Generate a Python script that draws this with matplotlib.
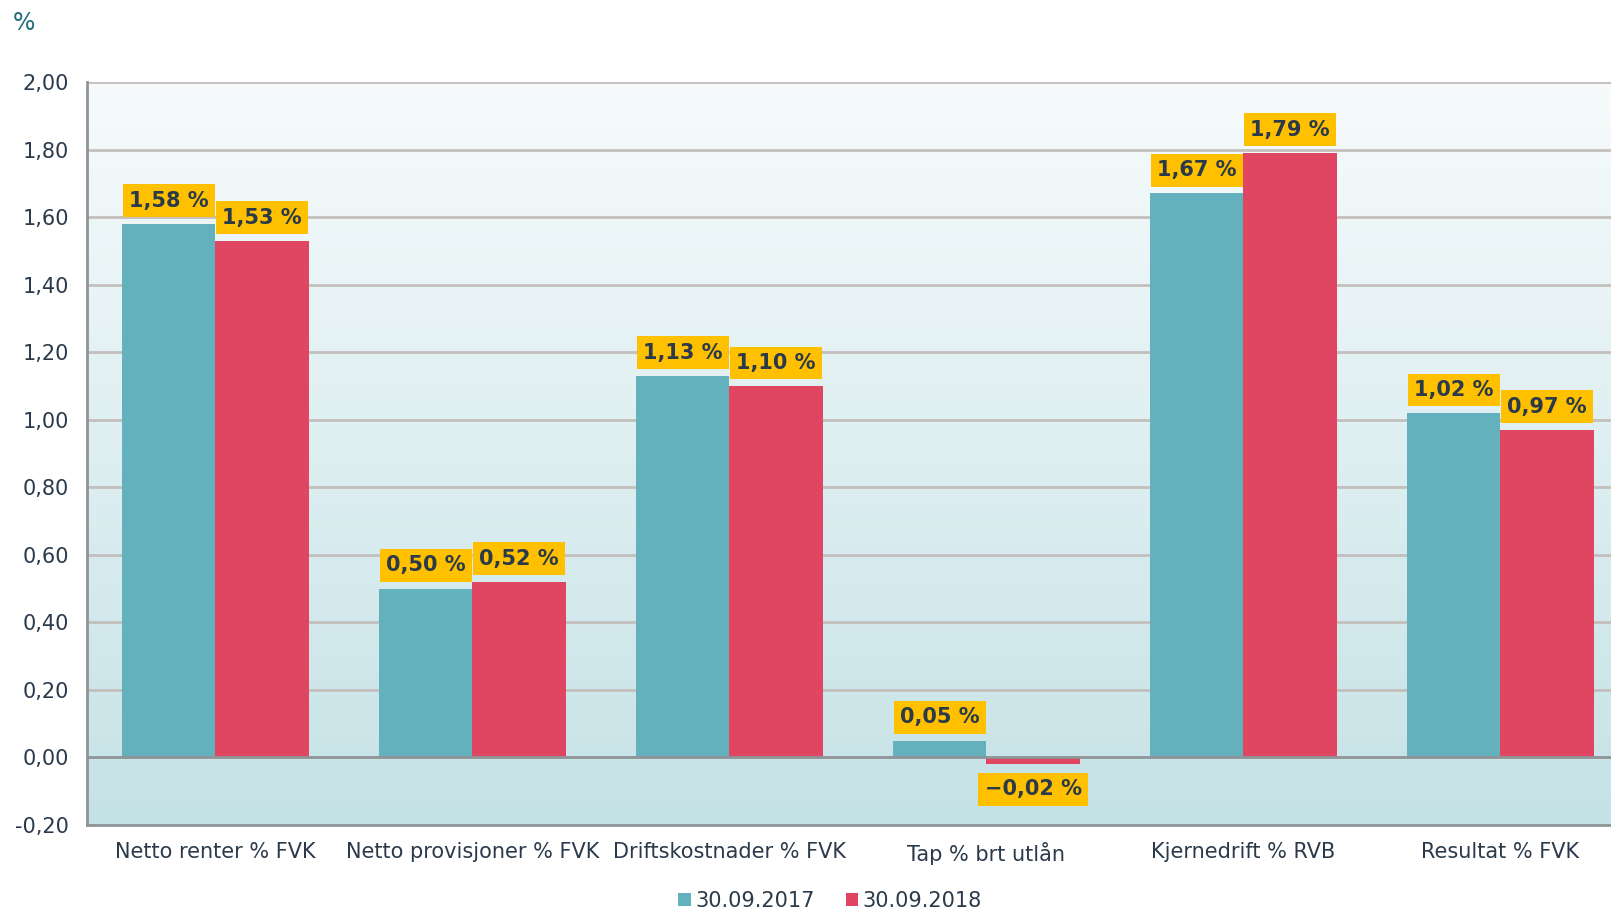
import matplotlib
matplotlib.use("Agg")
import matplotlib.pyplot as plt
import numpy as np
from matplotlib.colors import LinearSegmentedColormap

categories = ["Netto renter % FVK", "Netto provisjoner % FVK", "Driftskostnader % FVK",
              "Tap % brt utlån", "Kjernedrift % RVB", "Resultat % FVK"]
series_names = ["30.09.2017", "30.09.2018"]
values_2017 = [1.58, 0.50, 1.13, 0.05, 1.67, 1.02]
values_2018 = [1.53, 0.52, 1.10, -0.02, 1.79, 0.97]
yticks = [-0.2, 0.0, 0.2, 0.4, 0.6, 0.8, 1.0, 1.2, 1.4, 1.6, 1.8, 2.0]

teal = "#63b1bc"
red = "#e04562"
gold = "#ffc000"
text_col = "#2b3a4a"

plt.rcParams['font.family'] = ['DejaVu Sans']

fig = plt.figure(figsize=(16.11, 9.09), dpi=100)
ax = fig.add_axes([87/1611, 84/909, 1 - 87/1611, (825-82)/909])

# gradient background
cmap = LinearSegmentedColormap.from_list("bg", ["#f7fbfc", "#c5e2e6"])
grad = np.linspace(0, 1, 256).reshape(-1, 1)
ax.imshow(grad, extent=[0, 1, 0, 1], transform=ax.transAxes, aspect='auto',
          cmap=cmap, origin='upper', zorder=0)

x = np.arange(len(categories))
w = 0.362
ax.bar(x - w/2, values_2017, width=w, color=teal, zorder=3, label=series_names[0])
ax.bar(x + w/2, values_2018, width=w, color=red, zorder=3, label=series_names[1])

ax.set_xlim(-0.5, 5.43)
ax.set_ylim(-0.2, 2.0)
ax.set_yticks(yticks)
ax.set_yticklabels([("%.2f" % t).replace(".", ",") for t in yticks])
for t in yticks:
    if t in (-0.2,):
        continue
    if abs(t) < 1e-9:
        ax.axhline(t, color="#8e9497", lw=2, zorder=4)
    else:
        ax.axhline(t, color="#c3bfbc", lw=2, zorder=1)

ax.set_xticks(x)
ax.set_xticklabels(categories)
ax.tick_params(axis='both', length=0, labelsize=15, colors=text_col)
ax.tick_params(axis='x', pad=12)
ax.tick_params(axis='y', pad=13)

for s in ['top', 'right']:
    ax.spines[s].set_visible(False)
ax.spines['left'].set_color("#8e9497")
ax.spines['left'].set_linewidth(2)
ax.spines['bottom'].set_color("#8e9497")
ax.spines['bottom'].set_linewidth(2)

def fmt(v):
    s = ("%.2f" % abs(v)).replace(".", ",") + " %"
    return ("\u2212" + s) if v < 0 else s

for xs, vals in [(x - w/2, values_2017), (x + w/2, values_2018)]:
    for xi, v in zip(xs, vals):
        if v >= 0:
            ax.annotate(fmt(v), (xi, v), xytext=(0, 9.5), textcoords='offset points',
                        ha='center', va='bottom', fontsize=15, fontweight='bold',
                        color=text_col, zorder=6,
                        bbox=dict(boxstyle='square,pad=0.3', fc=gold, ec='none'))
        else:
            ax.annotate(fmt(v), (xi, v), xytext=(0, -11), textcoords='offset points',
                        ha='center', va='top', fontsize=15, fontweight='bold',
                        color=text_col, zorder=6,
                        bbox=dict(boxstyle='square,pad=0.3', fc=gold, ec='none'))

fig.text(13/1611, 1 - 23/909, "%", fontsize=17, color="#1f6e78", ha='left', va='center')

leg = fig.legend(loc='center', bbox_to_anchor=(830/1611, 1 - 901/909), ncol=2, frameon=False,
                 fontsize=15, handlelength=0.6, handleheight=0.6, handletextpad=0.2,
                 columnspacing=1.5, labelcolor=text_col)

fig.savefig("out.png", dpi=100)
